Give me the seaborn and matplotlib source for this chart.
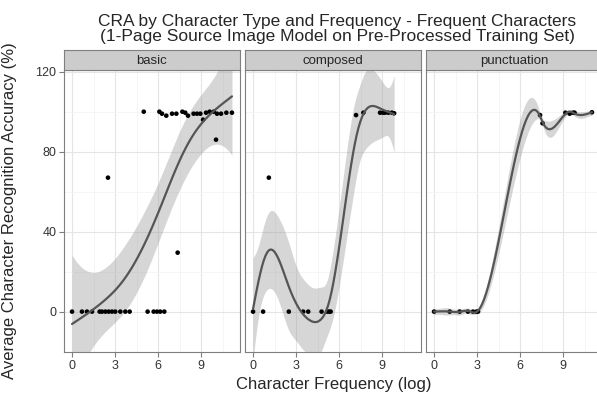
import numpy as np
import pandas as pd
import matplotlib
matplotlib.use("Agg")
import matplotlib.pyplot as plt
import seaborn as sns

# values (x = log frequency, y = accuracy %)
basic_x = [0.0, 0.69, 1.04, 1.39, 1.92, 2.09, 2.32, 2.55, 2.78, 3.01, 3.36, 3.71,
           4.01, 5.26, 5.68, 5.91, 6.14, 6.42, 2.50, 4.99, 7.35, 10.02,
           6.08, 6.26, 6.56, 6.96, 7.26, 7.68, 7.88, 8.07, 8.46, 8.70, 8.93,
           9.12, 9.33, 9.58, 9.86, 10.09, 10.37, 10.74, 11.13]
basic_y = [0, 0, 0, 0, 0, 0, 0, 0, 0, 0, 0, 0,
           0, 0, 0, 0, 0, 0, 67, 100, 29.5, 86,
           100, 99, 98, 99, 99, 100, 99.5, 98, 99, 99, 99,
           96, 99.5, 100, 100, 99, 99, 99.5, 99.5]

composed_x = [0.0, 0.70, 2.49, 3.49, 3.84, 4.77, 5.16, 5.30, 5.40, 1.10,
              7.17, 7.68, 8.84, 9.03, 9.19, 9.42, 9.66, 9.82]
composed_y = [0, 0, 0, 0, 0, 0, 0, 0, 0, 67,
              98.3, 99.5, 99.5, 99.5, 99.5, 99.5, 99.5, 99.2]

punct_x = [0.0, 1.09, 1.78, 2.36, 2.71, 2.95, 3.06,
           7.38, 7.55, 9.14, 9.44, 9.67, 9.78, 10.99]
punct_y = [0, 0, 0, 0, 0, 0, 0,
           98.3, 94.2, 99.5, 99, 99.5, 99.5, 99.7]

categories = ["basic", "composed", "punctuation"]

data = pd.concat([
    pd.DataFrame({"freq": basic_x, "cra": basic_y, "type": "basic"}),
    pd.DataFrame({"freq": composed_x, "cra": composed_y, "type": "composed"}),
    pd.DataFrame({"freq": punct_x, "cra": punct_y, "type": "punctuation"}),
])


def tp_basis(x, k=10):
    # 1-d thin plate regression spline, like mgcv's s(x)
    xu = np.unique(x)
    eta = lambda a, b: np.abs(a[:, None] - b[None, :])**3 / 12
    E = eta(xu, xu)
    vals, vecs = np.linalg.eigh(E)
    order = np.argsort(-np.abs(vals))[:k]
    Uk, Dk = vecs[:, order], vals[order]
    T = np.column_stack([np.ones(len(xu)), xu])
    Q, _ = np.linalg.qr(Uk.T @ T, mode="complete")
    Z = Q[:, 2:]
    W = Uk @ Z
    S = np.zeros((k, k))
    S[:k - 2, :k - 2] = Z.T @ np.diag(Dk) @ Z

    def design(xv):
        xv = np.asarray(xv, float)
        return np.column_stack([eta(xv, xu) @ W, np.ones(len(xv)), xv])

    return design, S


def gam_smooth(x, y, xnew, k=10):
    # penalised regression spline, smoothing chosen by GCV
    x = np.asarray(x, float)
    y = np.asarray(y, float)
    n = len(x)
    design, S = tp_basis(x, k)
    X = design(x)
    Xn = design(xnew)
    XtX = X.T @ X
    scale = np.trace(XtX) / np.trace(S)
    best = None
    for lg in np.linspace(-10, 4, 500):
        lam = scale * 10**lg
        P = np.linalg.pinv(XtX + lam * S)
        A = X @ P @ X.T
        edf = np.trace(A)
        rss = np.sum((y - A @ y)**2)
        gcv = n * rss / (n - edf)**2
        if best is None or gcv < best[0]:
            best = (gcv, P, edf, rss)
    _, P, edf, rss = best
    beta = P @ X.T @ y
    sigma2 = rss / (n - edf)
    fit = Xn @ beta
    se = np.sqrt(np.sum((Xn @ P) * Xn, axis=1) * sigma2)
    return fit, fit - 1.96 * se, fit + 1.96 * se


def smooth(data, color=None, **kws):
    ax = plt.gca()
    xs = np.linspace(data["freq"].min(), data["freq"].max(), 80)
    fit, lo, hi = gam_smooth(data["freq"].values, data["cra"].values, xs)
    ax.fill_between(xs, lo, hi, color="#999999", alpha=0.4, lw=0, zorder=2)
    ax.plot(xs, fit, color="#555555", lw=1.6, zorder=4)


sns.set_style("white")
plt.rcParams["font.family"] = ["Liberation Sans", "DejaVu Sans"]

g = sns.FacetGrid(data, col="type", col_order=categories, sharex=True, sharey=True)
g.map_dataframe(smooth)
g.map_dataframe(sns.scatterplot, x="freq", y="cra", color="black", s=11,
                edgecolor="none", zorder=3)

fig = g.figure
fig.set_size_inches(5.97, 3.94)
W, H = 597, 394
lefts = [64, 245, 426]
for ax, name, lx in zip(g.axes.flat, categories, lefts):
    ax.set_position([lx / W, 42 / H, 176 / W, 282 / H])
    ax.set_xlim(-0.56, 11.69)
    ax.set_ylim(-20.2, 120.85)
    ax.set_xticks([0, 3, 6, 9])
    ax.set_yticks([0, 40, 80, 120])
    ax.set_xticks([1.5, 4.5, 7.5, 10.5], minor=True)
    ax.set_yticks([20, 60, 100], minor=True)
    ax.grid(True, which="major", color="#e5e5e5", lw=0.8, zorder=0)
    ax.grid(True, which="minor", color="#f4f4f4", lw=0.6, zorder=0)
    ax.set_axisbelow(True)
    for sp in ax.spines.values():
        sp.set_color("#7f7f7f")
        sp.set_linewidth(0.8)
        sp.set_visible(True)
    ax.tick_params(which="major", length=3.5, width=0.8, color="#7f7f7f",
                   labelsize=9, labelcolor="#333333", pad=2, bottom=True, left=True)
    ax.tick_params(which="minor", length=0)
    ax.set_xlabel("")
    ax.set_ylabel("")
    ax.set_title("")
    if lx != 64:
        ax.tick_params(axis="y", left=False, labelleft=False)

    strip = fig.add_axes([lx / W, 324 / H, 176 / W, 20.3 / H])
    strip.set_facecolor("#cccccc")
    strip.set_xticks([])
    strip.set_yticks([])
    for sp in strip.spines.values():
        sp.set_color("#7f7f7f")
        sp.set_linewidth(0.8)
    strip.text(0.5, 0.45, name, ha="center", va="center", fontsize=9.5,
               transform=strip.transAxes)

fig.text(337 / W, 1 - 25.7 / H, "CRA by Character Type and Frequency - Frequent Characters",
         ha="center", va="baseline", fontsize=12.5)
fig.text(337 / W, 1 - 41 / H, "(1-Page Source Image Model on Pre-Processed Training Set)",
         ha="center", va="baseline", fontsize=12.5)
fig.text(333.5 / W, 1 - 389.5 / H, "Character Frequency (log)",
         ha="center", va="baseline", fontsize=12)
fig.text(9.5 / W, 1 - 211 / H, "Average Character Recognition Accuracy (%)",
         ha="center", va="center", rotation=90, fontsize=12)

fig.savefig("out.png", dpi=100)
